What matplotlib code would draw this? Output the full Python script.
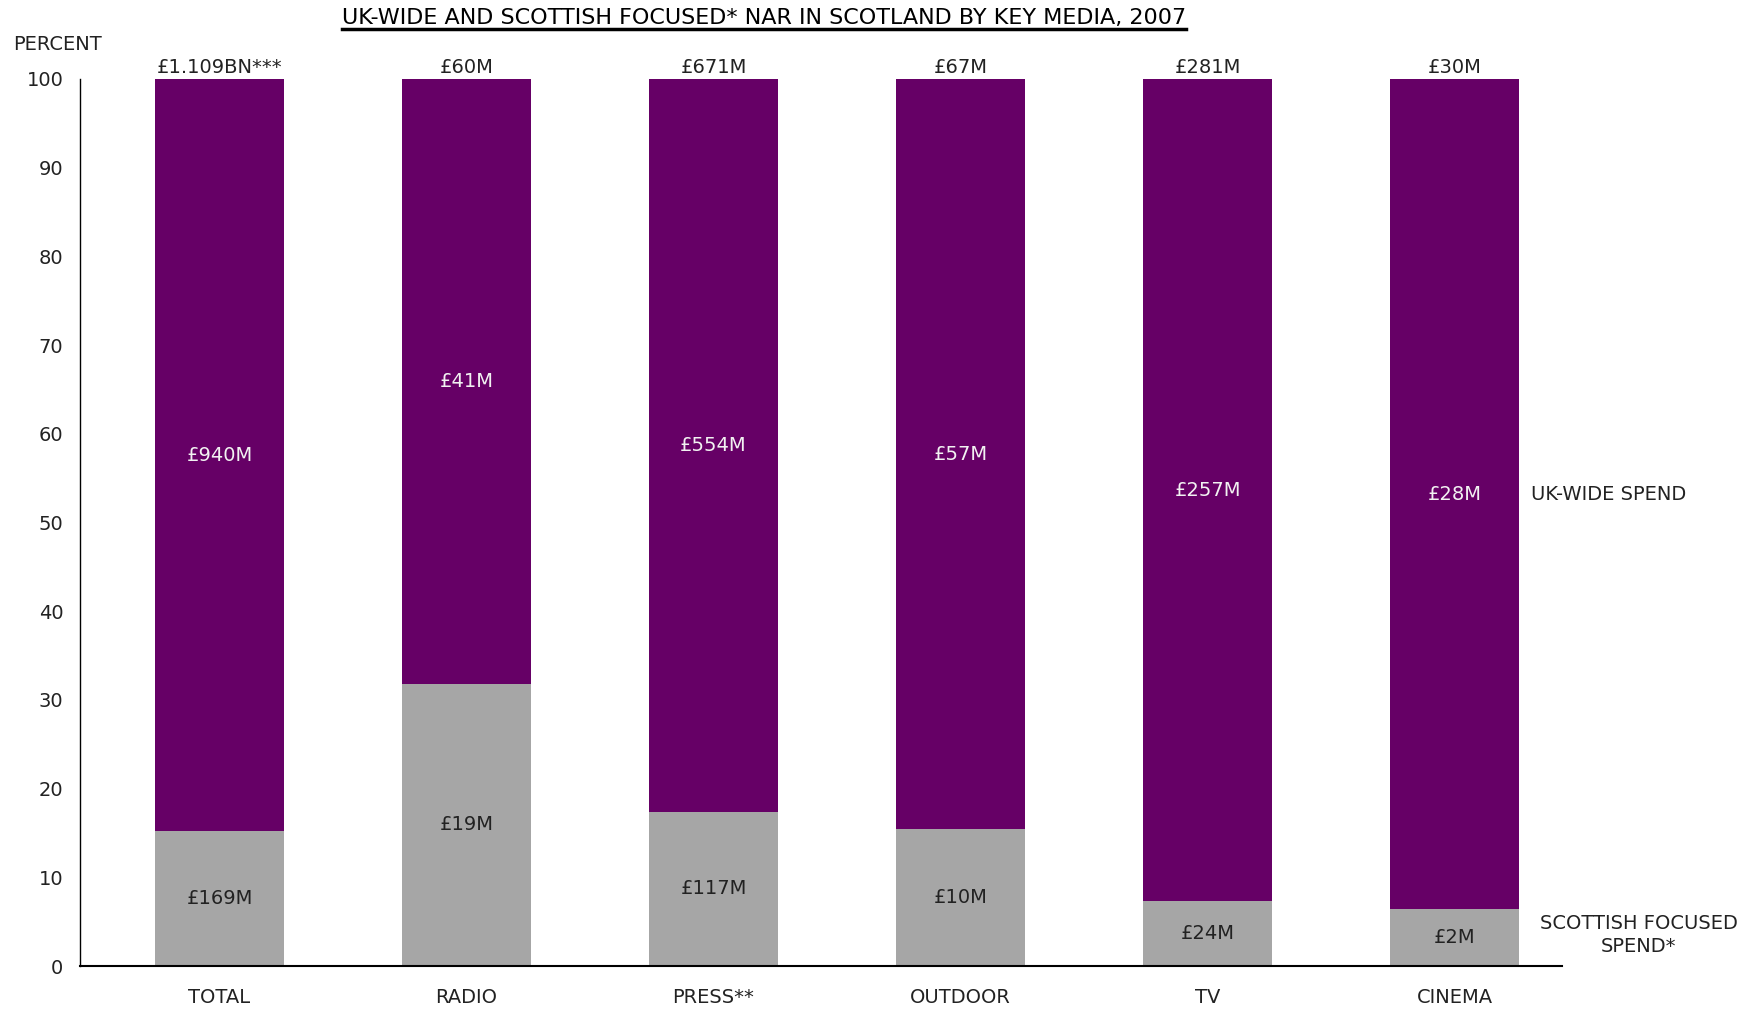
import numpy as np
import matplotlib
matplotlib.use("Agg")
import matplotlib.pyplot as plt
from matplotlib.lines import Line2D

# share of NAR per medium, percent
media = ["TOTAL", "RADIO", "PRESS**", "OUTDOOR", "TV", "CINEMA"]
scottish_pct = [15.2, 31.8, 17.4, 15.4, 7.3, 6.4]
ukwide_pct = [100 - v for v in scottish_pct]
totals = ["£1.109BN***", "£60M", "£671M", "£67M", "£281M", "£30M"]
ukwide_lbl = ["£940M", "£41M", "£554M", "£57M", "£257M", "£28M"]
scottish_lbl = ["£169M", "£19M", "£117M", "£10M", "£24M", "£2M"]

purple = "#660066"
grey = "#a6a6a6"
txt = "#222222"
plt.rcParams["font.family"] = ["DejaVu Sans"]

fig = plt.figure(figsize=(17.57, 10.10), dpi=100, facecolor="white")
ax = fig.add_axes([80 / 1757, 44 / 1010, (1562 - 80) / 1757, (966 - 79) / 1010])

x = np.arange(len(media))
w = 0.52
ax.bar(x, scottish_pct, width=w, color=grey)
ax.bar(x, ukwide_pct, width=w, bottom=scottish_pct, color=purple)

for i in x:
    s = scottish_pct[i]
    u = ukwide_pct[i]
    ax.text(i, s / 2, scottish_lbl[i], ha="center", va="center", fontsize=14, color=txt)
    ax.text(i, s + u / 2, ukwide_lbl[i], ha="center", va="center", fontsize=14, color="#f2f2f2")
    ax.text(i, s + u + 1.3, totals[i], ha="center", va="center", fontsize=14, color=txt)

ax.set_xlim(-0.565, 5.435)
ax.set_ylim(0, 100)
ax.set_yticks(range(0, 101, 10))
ax.set_xticks(x)
ax.set_xticklabels(media)
ax.tick_params(axis="y", length=0, pad=12, labelsize=14, labelcolor=txt)
ax.tick_params(axis="x", length=0, pad=16, labelsize=14, labelcolor=txt)
for sp in ["top", "right"]:
    ax.spines[sp].set_visible(False)
ax.spines["left"].set_linewidth(1.0)
ax.spines["bottom"].set_linewidth(1.5)

# series names beside the last bar
last = len(media) - 1
ax.text(5.31, scottish_pct[last] + ukwide_pct[last] / 2, "UK-WIDE SPEND",
        ha="left", va="center", fontsize=14, color=txt)
fig.text(1639 / 1757, 1 - 935 / 1010, "SCOTTISH FOCUSED\nSPEND*",
         ha="center", va="center", fontsize=14, color=txt, linespacing=1.3)

fig.text(13 / 1757, 1 - 45 / 1010, "PERCENT", ha="left", va="center", fontsize=14, color=txt)

title = fig.text(764 / 1757, 1 - 18 / 1010,
                 "UK-WIDE AND SCOTTISH FOCUSED* NAR IN SCOTLAND BY KEY MEDIA, 2007",
                 ha="center", va="center", fontsize=16, color="black")

# underline the title
fig.canvas.draw()
bb = title.get_window_extent()
fig.add_artist(Line2D([bb.x0, bb.x1], [bb.y0 - 1, bb.y0 - 1], transform=None,
                      color="black", linewidth=2.5))

fig.savefig("out.png", dpi=100)
